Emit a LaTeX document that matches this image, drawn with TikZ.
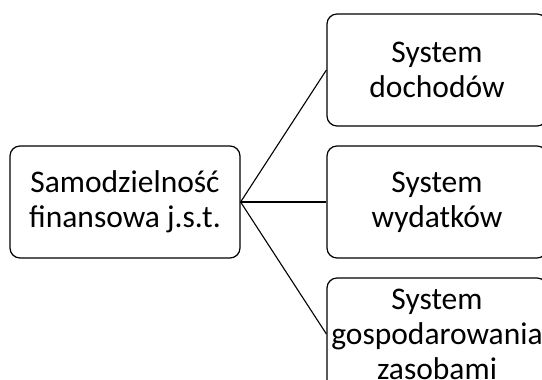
\documentclass[tikz,border=0pt]{standalone}
\usepackage{fontspec}
\setmainfont{Carlito}
\begin{document}
\begin{tikzpicture}[x=1pt,y=1pt,
  box/.style={draw, line width=1.2pt, rounded corners=10pt, minimum width=#1, align=center, inner sep=0pt, font=\fontsize{31.5}{35}\selectfont},
  box/.default=230pt,
  conn/.style={line width=1.1pt}]
\useasboundingbox (0,0) rectangle (542,380);
\begin{scope}
\clip (0,0) rectangle (542,380);
\node[box=230pt, minimum height=112pt] (root) at (125,178) {Samodzielność\\finansowa j.s.t.};
\node[box=220pt, minimum height=112pt] (a) at (437,310) {System\\dochodów};
\node[box=220pt, minimum height=112pt] (b) at (437,178) {System\\wydatków};
\node[box=220pt, minimum height=112pt] (c) at (437,46) {System\\gospodarowania\\zasobami};
\draw[conn] (root.east) -- (a.west);
\draw[conn] (root.east) -- (b.west);
\draw[conn] (root.east) -- (c.west);
\end{scope}
\end{tikzpicture}
\end{document}
